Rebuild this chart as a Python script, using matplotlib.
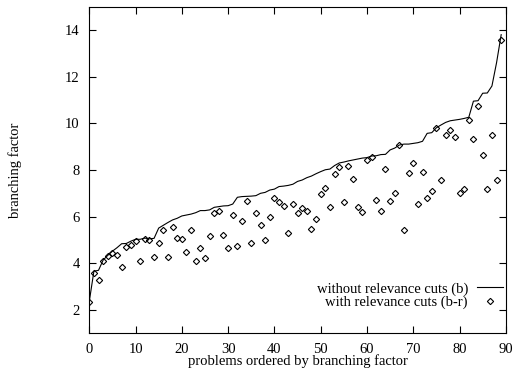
import matplotlib
matplotlib.use("Agg")
import matplotlib.pyplot as plt
import numpy as np

plt.rcParams['font.family'] = ['Liberation Serif', 'DejaVu Serif']

problems = list(range(90))

without_cuts = [
    2.36, 3.66, 3.70, 4.14, 4.34, 4.52, 4.67, 4.84, 4.85, 4.95,
    5.03, 5.03, 5.08, 5.05, 5.07, 5.51, 5.63, 5.75, 5.86, 5.93,
    6.03, 6.07, 6.11, 6.17, 6.26, 6.26, 6.29, 6.40, 6.43, 6.46,
    6.47, 6.54, 6.83, 6.86, 6.87, 6.88, 6.90, 7.00, 7.04, 7.14,
    7.18, 7.29, 7.31, 7.34, 7.39, 7.51, 7.57, 7.67, 7.74, 7.84,
    7.93, 8.01, 8.04, 8.19, 8.30, 8.34, 8.39, 8.43, 8.47, 8.51,
    8.53, 8.60, 8.61, 8.66, 8.67, 8.86, 8.94, 9.07, 9.11, 9.11,
    9.14, 9.17, 9.23, 9.57, 9.60, 9.81, 9.93, 10.04, 10.11, 10.14,
    10.17, 10.21, 10.26, 10.95, 10.97, 11.29, 11.30, 11.60, 12.60, 13.80,
]

with_cuts = [
    2.36, 3.57, 3.29, 4.11, 4.31, 4.43, 4.36, 3.83, 4.69, 4.79,
    4.97, 4.11, 5.06, 5.00, 4.26, 4.86, 5.43, 4.26, 5.57, 5.10,
    5.03, 4.50, 5.43, 4.10, 4.67, 4.21, 5.19, 6.14, 6.23, 5.21,
    4.64, 6.07, 4.74, 5.81, 6.69, 4.89, 6.14, 5.63, 5.00, 6.00,
    6.80, 6.63, 6.44, 5.31, 6.54, 6.17, 6.39, 6.23, 5.49, 5.91,
    6.99, 7.24, 6.41, 7.81, 8.11, 6.61, 8.16, 7.61, 6.43, 6.20,
    8.43, 8.57, 6.71, 6.23, 8.04, 6.69, 7.00, 9.06, 5.43, 7.89,
    8.30, 6.56, 7.91, 6.81, 7.11, 9.81, 7.57, 9.50, 9.71, 9.40,
    7.03, 7.19, 10.14, 9.31, 10.74, 8.63, 7.19, 9.50, 7.57, 13.57,
]

x_ticks = [0, 10, 20, 30, 40, 50, 60, 70, 80, 90]
y_ticks = [2, 4, 6, 8, 10, 12, 14]

fig = plt.figure(figsize=(5.13, 3.71), dpi=100)
ax = fig.add_axes([0.174, 0.1016, 0.812, 0.8804])

ax.plot(problems, without_cuts, color='black', lw=0.8,
        label='without relevance cuts (b)')
ax.plot(problems, with_cuts, linestyle='none', marker='D', markersize=3.2,
        mfc='none', mec='black', mew=0.8,
        label='with relevance cuts (b-r)')

ax.set_xlim(0, 90)
ax.set_ylim(1, 15)
ax.set_xticks(x_ticks)
ax.set_yticks(y_ticks)
ax.tick_params(direction='in', top=True, right=True, length=5, width=0.8,
               labelsize=10.5, pad=7)
for s in ax.spines.values():
    s.set_linewidth(0.8)

ax.set_xlabel('problems ordered by branching factor', fontsize=10.5, labelpad=-1)
fig.text(15 / 513, 1 - 170 / 371, 'branching factor', fontsize=10.5,
         ha='center', va='center', rotation=90)

leg = ax.legend(loc='lower right', frameon=False, markerfirst=False,
                fontsize=10.5, handlelength=1.8, handletextpad=0.6,
                labelspacing=0.0, borderaxespad=0.0, borderpad=0.2,
                bbox_to_anchor=(1.0, 0.065))
for t in leg.get_texts():
    t.set_ha('right')

fig.savefig('out.png', dpi=100)
